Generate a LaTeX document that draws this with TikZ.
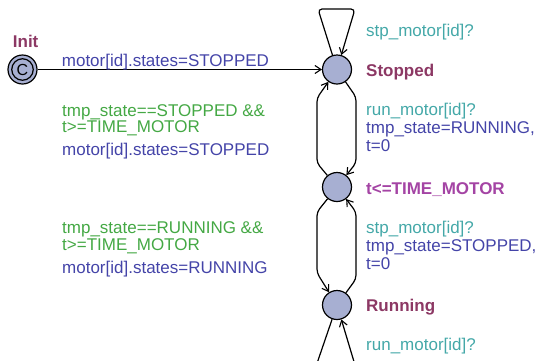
\documentclass[tikz,border=0pt]{standalone}
\usepackage{fontspec}
\setmainfont{Liberation Sans}
\usetikzlibrary{arrows.meta}
\definecolor{locfill}{HTML}{A7AFD2}
\definecolor{namecol}{HTML}{8C3864}
\definecolor{invcol}{HTML}{A444A4}
\definecolor{synccol}{HTML}{44A8A8}
\definecolor{asgcol}{HTML}{4444A8}
\definecolor{guardcol}{HTML}{44A844}
\begin{document}
\begin{tikzpicture}[x=1pt,y=-1pt,
  loc/.style={circle,draw,line width=1.2pt,fill=locfill,minimum size=29pt,inner sep=0pt},
  lbl/.style={anchor=base west,inner sep=0pt,font=\fontsize{17}{17}\selectfont},
  locname/.style={lbl,text=namecol,font=\fontsize{17}{17}\selectfont\bfseries},
  inv/.style={lbl,text=invcol,font=\fontsize{17}{17}\selectfont\bfseries},
  sync/.style={lbl,text=synccol},
  asg/.style={lbl,text=asgcol},
  guard/.style={lbl,text=guardcol},
  edge/.style={line width=1.2pt,rounded corners=4pt,-{Straight Barb[length=6pt,width=8pt,line width=1.1pt]}}
]
\useasboundingbox (0,0) rectangle (536,360);
\clip (0,0) rectangle (536,360);

% locations
\node[loc] (I) at (22.5,69.5) {};
\node[circle,draw,line width=1.2pt,minimum size=21.5pt,inner sep=0pt,font=\fontsize{16}{16}\selectfont] (Ic) at (I) {C};
\node[loc] (S) at (337,69.5) {};
\node[loc] (M) at (337,187) {};
\node[loc] (R) at (337,305) {};

% edges
\draw[edge] (I) -- (S);
\draw[edge] (S) -- (318,9) -- (355,9) -- (S);
\draw[edge] (S) -- (356,97) -- (356,163) -- (M);
\draw[edge] (M) -- (317,163) -- (317,98) -- (S);
\draw[edge] (M) -- (317,212) -- (317,273) -- (R);
\draw[edge] (R) -- (356,279) -- (356,212) -- (M);
\draw[edge] (R) -- (313,375) -- (358,375) -- (R);

% location labels
\node[locname] (nI) at (12.7,47.7) {Init};
\node[locname] (nS) at (366,76) {Stopped};
\node[inv] (nM) at (366,194) {t<=TIME\_MOTOR};
\node[locname] (nR) at (366,311.7) {Running};

% edge labels left
\node[asg] (a0) at (61.7,66) {motor[id].states=STOPPED};
\node[guard] (g1a) at (62,116) {tmp\_state==STOPPED \&\&};
\node[guard] (g1b) at (62,132.7) {t>=TIME\_MOTOR};
\node[asg] (a1) at (62,155) {motor[id].states=STOPPED};
\node[guard] (g2a) at (62,233.3) {tmp\_state==RUNNING \&\&};
\node[guard] (g2b) at (62,250) {t>=TIME\_MOTOR};
\node[asg] (a2) at (62,273.3) {motor[id].states=RUNNING};

% edge labels right
\node[sync] (s0) at (366,36.7) {stp\_motor[id]?};
\node[sync] (s1) at (366,115) {run\_motor[id]?};
\node[asg] (a3a) at (366,133) {tmp\_state=RUNNING,};
\node[asg] (a3b) at (366,151.7) {t=0};
\node[sync] (s2) at (366,233.3) {stp\_motor[id]?};
\node[asg] (a4a) at (366,251.7) {tmp\_state=STOPPED,};
\node[asg] (a4b) at (366,269.3) {t=0};
\node[sync] (s3) at (366,350) {run\_motor[id]?};
\end{tikzpicture}
\end{document}
